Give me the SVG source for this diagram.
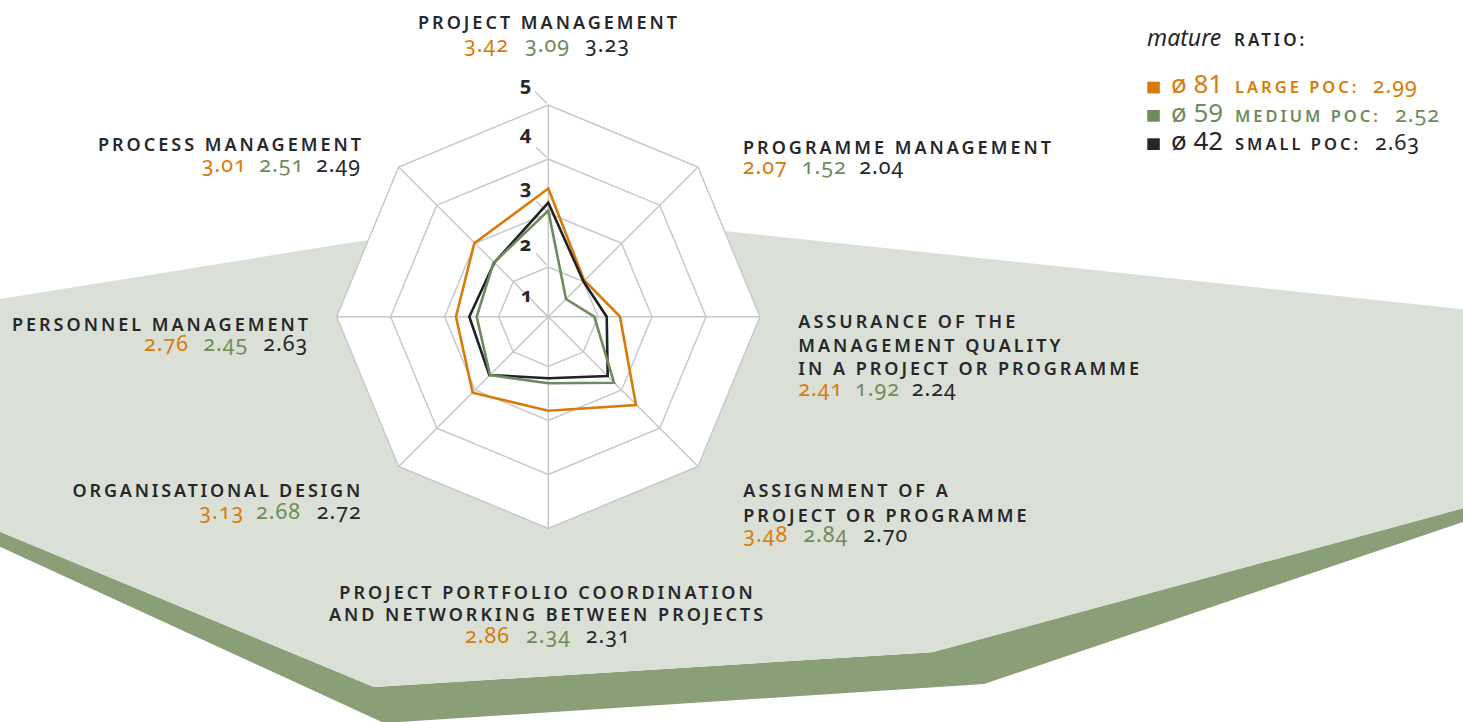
<svg xmlns="http://www.w3.org/2000/svg" width="1463" height="722" viewBox="0 0 1463 722">
<style>
.lbl{font-family:"Noto Sans","Open Sans",sans-serif;font-size:18px;font-weight:600;letter-spacing:3px;fill:#26272b}
.num{font-family:"Noto Sans","Open Sans",sans-serif;font-size:21.5px;letter-spacing:1px;font-variant-numeric:oldstyle-nums}
.ax{font-family:"Noto Sans","Open Sans",sans-serif;font-size:20px;font-weight:700;fill:#26272b;text-anchor:middle;font-variant-numeric:oldstyle-nums}
.o{fill:#d97b0a}.g{fill:#6e8b5d}.k{fill:#26272b}
.ring{fill:none;stroke:#c6c6c9;stroke-width:1.4}
.poly{fill:none;stroke-width:2.6;stroke-linejoin:miter}
.leg{font-family:"Noto Sans","Open Sans",sans-serif}
.cnt{font-size:26px}
.sc{font-size:16.5px;font-weight:600;letter-spacing:3px}
</style>
<rect width="1463" height="722" fill="#ffffff"/>
<g id="background">
<polygon points="0,531.7 374,687 932,652.3 1463,508.3 1463,522 984,684 384,723 0,546.7" fill="#8a9e78"/>
<polygon points="0,299 363,240.7 725,231 1463,309.3 1463,508.3 932,652.3 374,687 0,531.7" fill="#dbe0d6"/>
</g>
<g id="grid">
<polygon points="760,316.7 698,167 548.3,105 398.6,167 336.6,316.7 398.6,466.4 548.3,528.4 698,466.4" fill="#ffffff" stroke="#c6c6c9" stroke-width="1.4"/>
<polygon class="ring" points="706,316.7 659.8,205.2 548.3,159 436.8,205.2 390.6,316.7 436.8,428.2 548.3,474.4 659.8,428.2"/>
<polygon class="ring" points="652,316.7 621.6,243.4 548.3,213 475,243.4 444.6,316.7 475,390 548.3,420.4 621.6,390"/>
<polygon class="ring" points="598,316.7 583.4,281.6 548.3,267 513.2,281.6 498.6,316.7 513.2,351.8 548.3,366.4 583.4,351.8"/>
<path class="ring" d="M548.3,316.7L760,316.7M548.3,316.7L698,167M548.3,316.7L548.3,105M548.3,316.7L398.6,167M548.3,316.7L336.6,316.7M548.3,316.7L398.6,466.4M548.3,316.7L548.3,528.4M548.3,316.7L698,466.4"/>
<path class="ring" d="M535,91.7L546.7,103.3M536,147.3L546.7,157.3M536,201L546.7,211.5M536,253.3L546.7,265M536,305L546.7,315.5" stroke-width="1.2"/>
<text class="ax" x="525.5" y="91">5</text>
<text class="ax" x="525.5" y="139.5">4</text>
<text class="ax" x="525.5" y="194">3</text>
<text class="ax" x="525.5" y="251">2</text>
<text class="ax" x="526.5" y="302">1</text>
</g>
<g id="series">
<polygon id="large" class="poly" stroke="#d97b0a" points="548.3,188.5 584,280 620,316.7 636,405 548.3,410.7 472.7,392.7 456,316.7 474.3,243.3"/>
<polygon id="small" class="poly" stroke="#222226" points="548.3,202.7 583.5,281.5 606.7,316.7 607.7,376 548.3,378.3 489.3,375 469.3,316.7 494.3,262.7"/>
<polygon id="medium" class="poly" stroke="#6e8b5d" points="548.3,210.5 566,299 594.3,316.7 614,382.7 548.3,383.3 490,375 476.7,316.7 493.3,263.3"/>
</g>
<g id="label-project-management">
<text class="lbl" x="418" y="29.3">PROJECT MANAGEMENT</text>
<text class="num o" x="464" y="52.3">3.42</text><text class="num g" x="525" y="52.3">3.09</text><text class="num k" x="585" y="52.3">3.23</text>
</g>
<g id="label-programme-management">
<text class="lbl" x="743" y="154.3">PROGRAMME MANAGEMENT</text>
<text class="num o" x="742.7" y="174">2.07</text><text class="num g" x="801.7" y="174">1.52</text><text class="num k" x="859.3" y="174">2.04</text>
</g>
<g id="label-assurance">
<text class="lbl" x="798.3" y="328.3">ASSURANCE OF THE<tspan x="798.3" y="351.7">MANAGEMENT QUALITY</tspan><tspan x="798.3" y="375">IN A PROJECT OR PROGRAMME</tspan></text>
<text class="num o" x="798.3" y="395.7">2.41</text><text class="num g" x="855" y="395.7">1.92</text><text class="num k" x="911.7" y="395.7">2.24</text>
</g>
<g id="label-assignment">
<text class="lbl" x="743.3" y="497.3">ASSIGNMENT OF A<tspan x="743.3" y="521.7">PROJECT OR PROGRAMME</tspan></text>
<text class="num o" x="743.3" y="541.7">3.48</text><text class="num g" x="803.3" y="541.7">2.84</text><text class="num k" x="863.3" y="541.7">2.70</text>
</g>
<g id="label-portfolio">
<text class="lbl" x="547.5" y="599" text-anchor="middle">PROJECT PORTFOLIO COORDINATION<tspan x="547.5" y="621">AND NETWORKING BETWEEN PROJECTS</tspan></text>
<text class="num o" x="465" y="643.3">2.86</text><text class="num g" x="526" y="643.3">2.34</text><text class="num k" x="585.7" y="643.3">2.31</text>
</g>
<g id="label-organisational-design">
<text class="lbl" x="363" y="497.3" text-anchor="end" style="letter-spacing:2.8px">ORGANISATIONAL DESIGN</text>
<text class="num o" x="199.3" y="519">3.13</text><text class="num g" x="256" y="519">2.68</text><text class="num k" x="316.7" y="519">2.72</text>
</g>
<g id="label-personnel-management">
<text class="lbl" x="311" y="331" text-anchor="end">PERSONNEL MANAGEMENT</text>
<text class="num o" x="144" y="351">2.76</text><text class="num g" x="203.3" y="351">2.45</text><text class="num k" x="263.3" y="351">2.63</text>
</g>
<g id="label-process-management">
<text class="lbl" x="364" y="150.7" text-anchor="end">PROCESS MANAGEMENT</text>
<text class="num o" x="201.7" y="171.7">3.01</text><text class="num g" x="259.3" y="171.7">2.51</text><text class="num k" x="316" y="171.7">2.49</text>
</g>
<g id="legend" class="leg">
<text x="1147" y="46" style="font-size:23px;font-style:italic;fill:#26272b">mature</text>
<text class="sc k" x="1234" y="46" style="font-size:17px">RATIO:</text>
<rect x="1147.3" y="81.7" width="12.5" height="11.7" fill="#d97b0a"/>
<rect x="1147.3" y="110" width="12.5" height="11.7" fill="#6e8b5d"/>
<rect x="1147.3" y="138.3" width="12.5" height="11.7" fill="#26272b"/>
<text x="1171" y="93.3" class="cnt o">ø 81</text>
<text x="1235" y="93.3" class="sc o">LARGE POC:</text>
<text x="1372.7" y="93.3" class="num o">2.99</text>
<text x="1171" y="121.7" class="cnt g">ø 59</text>
<text x="1235" y="121.7" class="sc g">MEDIUM POC:</text>
<text x="1395" y="121.7" class="num g">2.52</text>
<text x="1171" y="150" class="cnt k">ø 42</text>
<text x="1235" y="150" class="sc k">SMALL POC:</text>
<text x="1375" y="150" class="num k">2.63</text>
</g>
</svg>
